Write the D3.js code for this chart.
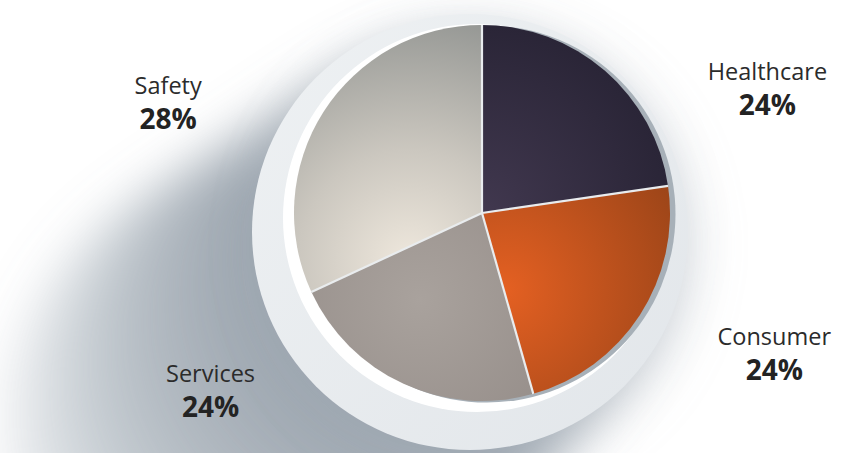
<!DOCTYPE html>
<html>
<head>
<meta charset="utf-8">
<script src="https://cdn.jsdelivr.net/npm/d3@7"></script>
<style>
  html, body { margin: 0; padding: 0; background: #fff; }
  svg { display: block; }
  .name { font-family: "Open Sans", sans-serif; font-size: 23.5px; fill: #2b2b2b; }
  .pct { font-family: "Open Sans", sans-serif; font-size: 28px; font-weight: 700; fill: #232323; }
</style>
</head>
<body>
<svg id="chart" width="858" height="453"></svg>
<script>
// categories, clockwise from 12 o'clock
var categories = ["Healthcare", "Consumer", "Services", "Safety"];
// printed percentages
var percents = [24, 24, 24, 28];
// slice sizes as actually drawn in the picture (share of the circle, %)
var drawnShares = [22.7, 22.9, 22.5, 31.9];

function draw_pie() {
    var svg = d3.select("#chart"),
        cx = 482, cy = 213, r = 188,
        ringC = [470, 232], ringR = 218;

    var defs = svg.append("defs");

    // soft long shadow toward lower-left
    var blur = defs.append("filter").attr("id", "shadowBlur")
        .attr("x", "-50%").attr("y", "-50%").attr("width", "200%").attr("height", "200%");
    blur.append("feGaussianBlur").attr("stdDeviation", 24);

    var sh = svg.append("g").attr("filter", "url(#shadowBlur)");
    d3.range(19).forEach(k => {
        sh.append("circle")
            .attr("cx", ringC[0] - k * 12)
            .attr("cy", ringC[1] + k * 11)
            .attr("r", ringR - 4 + k * 2.5)
            .attr("fill", "#7d8c99")
            .attr("fill-opacity", 0.08);
    });
    // faint shadow lower-right
    svg.append("circle").attr("cx", ringC[0] + 8).attr("cy", ringC[1] + 14).attr("r", ringR)
        .attr("fill", "#aab3bb").attr("fill-opacity", 0.35).attr("filter", "url(#shadowBlur)");

    // outer ring
    var ringGrad = defs.append("linearGradient").attr("id", "ringGrad")
        .attr("x1", "0%").attr("y1", "0%").attr("x2", "100%").attr("y2", "100%");
    ringGrad.append("stop").attr("offset", "0%").attr("stop-color", "#eef1f3");
    ringGrad.append("stop").attr("offset", "100%").attr("stop-color", "#e2e6ea");
    svg.append("circle").attr("cx", ringC[0]).attr("cy", ringC[1]).attr("r", ringR)
        .attr("fill", "url(#ringGrad)");

    // white inner rim (lower-left) and darker edge (right)
    svg.append("circle").attr("cx", 477).attr("cy", 218).attr("r", 194).attr("fill", "#ffffff");
    svg.append("circle").attr("cx", 487).attr("cy", 214).attr("r", 188.5).attr("fill", "#a7b0b8");

    // slice gradients
    function radial(id, gx, gy, gr, stops) {
        var g = defs.append("radialGradient").attr("id", id)
            .attr("gradientUnits", "userSpaceOnUse")
            .attr("cx", gx).attr("cy", gy).attr("r", gr);
        stops.forEach(s => g.append("stop").attr("offset", s[0]).attr("stop-color", s[1]));
    }
    radial("g0", cx, cy, r, [[0, "#41384f"], [1, "#2a2537"]]);
    radial("g1", 505, 290, 200, [[0, "#e46022"], [1, "#9a4418"]]);
    radial("g2", 420, 300, 200, [[0, "#a9a29d"], [1, "#928a86"]]);
    radial("g3", 410, 262, 250, [[0, "#efe8dd"], [0.45, "#cbc7bf"], [1, "#959794"]]);

    var pie = d3.pie().sort(null).value(d => d)(drawnShares);

    // slices drawn in page coords so the user-space gradients line up
    svg.selectAll("path.slice").data(pie).enter().append("path").classed("slice", true)
        .attr("d", d => {
            var p = d3.path(), a0 = d.startAngle - Math.PI / 2, a1 = d.endAngle - Math.PI / 2;
            p.moveTo(cx, cy);
            p.lineTo(cx + r * Math.cos(a0), cy + r * Math.sin(a0));
            p.arc(cx, cy, r, a0, a1);
            p.closePath();
            return p.toString();
        })
        .attr("fill", (d, i) => "url(#g" + i + ")");

    var g = svg.append("g").attr("transform", "translate(" + [cx, cy] + ")");

    // separators
    g.selectAll("line.sep").data(pie).enter().append("line").classed("sep", true)
        .attr("x1", 0).attr("y1", 0)
        .attr("x2", d => d3.pointRadial(d.startAngle, r)[0])
        .attr("y2", d => d3.pointRadial(d.startAngle, r)[1])
        .attr("stroke", "#e9ecee").attr("stroke-width", 2.2);

    // label anchors (angle in degrees clockwise from top, distance from pie centre)
    var labelAt = [[67.9, 308], [117, 328], [235.6, 329], [288, 330]];
    var labels = g.selectAll("g.label").data(pie).enter().append("g").classed("label", true)
        .attr("transform", (d, i) => "translate(" + d3.pointRadial(labelAt[i][0] * Math.PI / 180, labelAt[i][1]) + ")");
    labels.append("text").classed("name", true).attr("text-anchor", "middle").attr("y", -17)
        .text((d, i) => categories[i]);
    labels.append("text").classed("pct", true).attr("text-anchor", "middle").attr("y", 18)
        .text((d, i) => percents[i] + "%");
}

draw_pie();
</script>
</body>
</html>
